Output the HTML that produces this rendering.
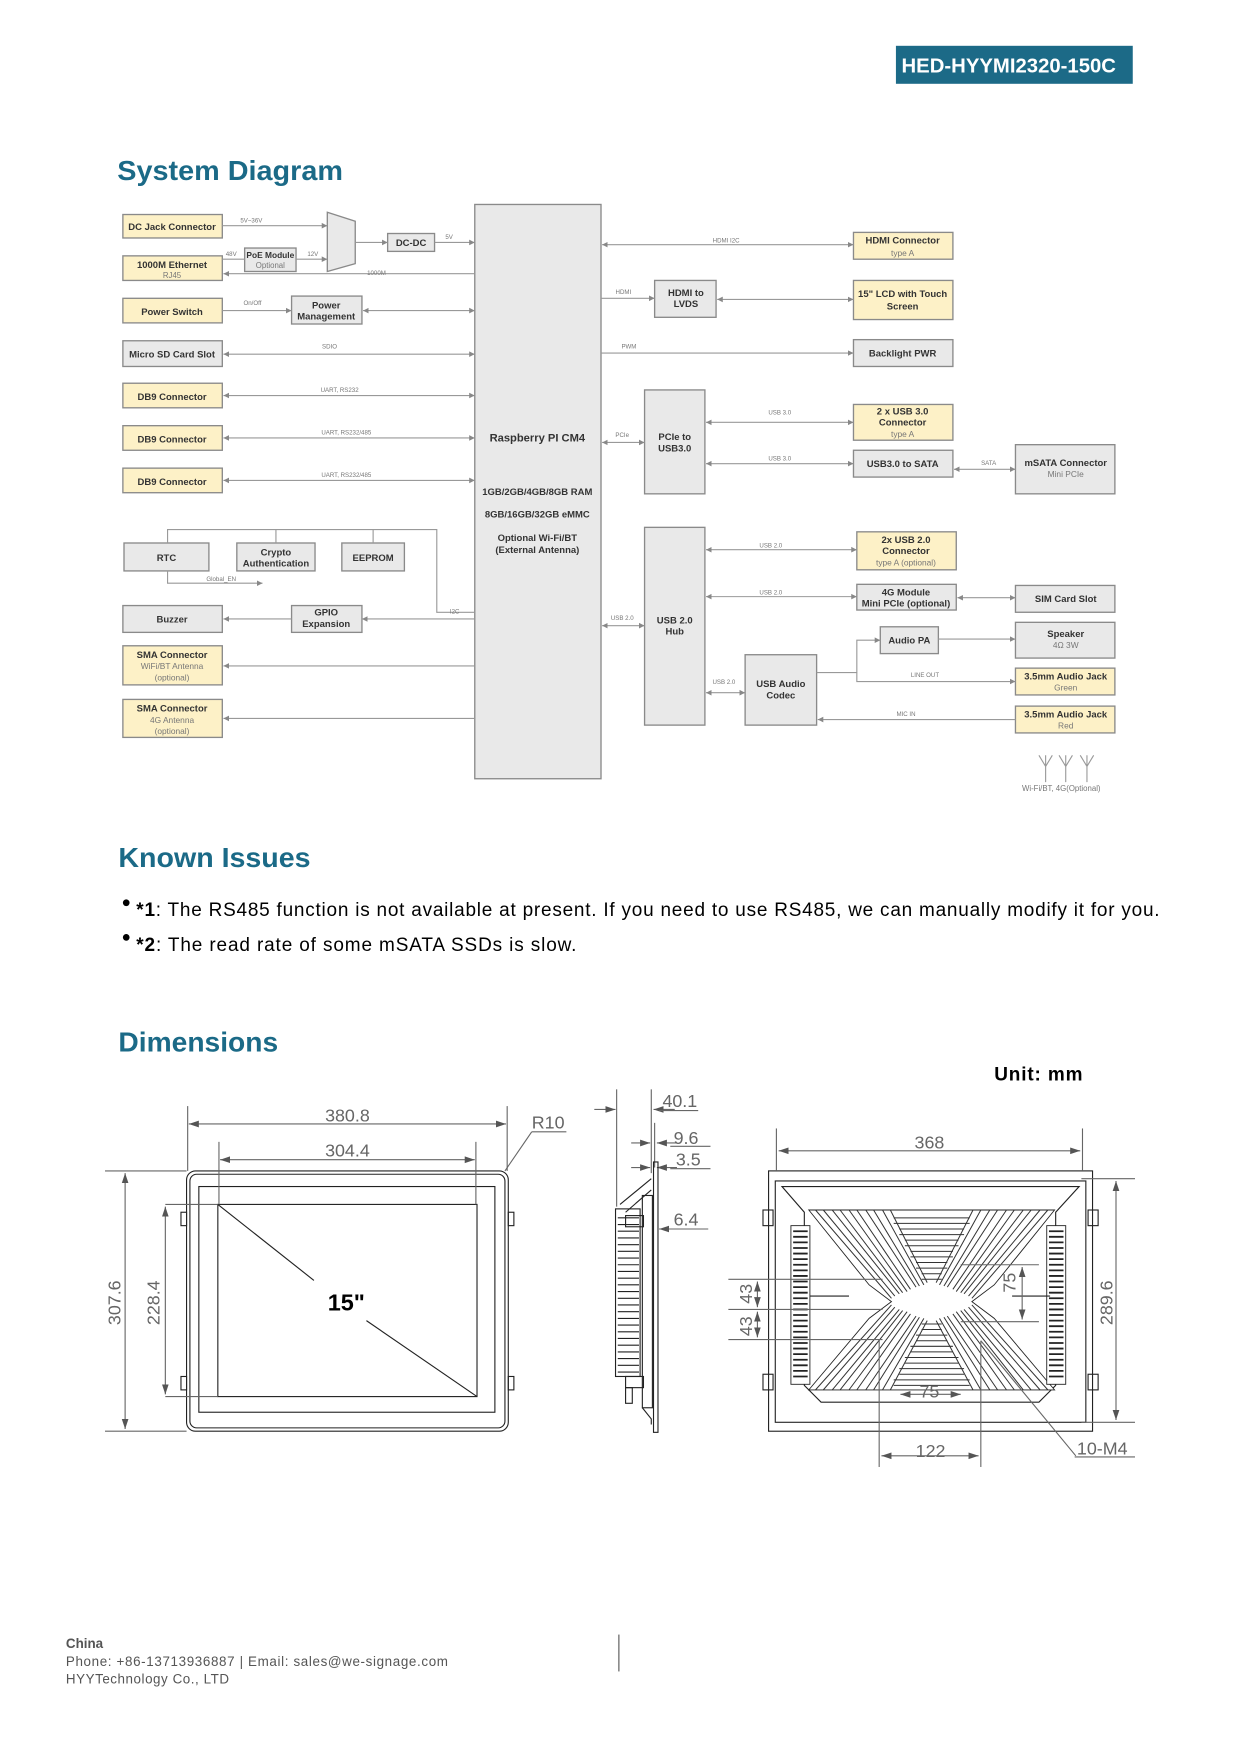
<!DOCTYPE html>
<html><head><meta charset="utf-8"><style>
html,body{margin:0;padding:0;background:#fff;}
svg{display:block;}
text{font-family:"Liberation Sans",Arial,sans-serif;}
.b{fill:#fdf1c7;stroke:#8a8a8a;stroke-width:1.2;}
.g{fill:#e9e9e9;stroke:#8a8a8a;stroke-width:1.2;}
.t{font-size:8.5px;font-weight:bold;fill:#333;text-anchor:middle;}
.s{font-size:5.5px;fill:#777;text-anchor:middle;}
.l{stroke:#999;stroke-width:1;fill:none;}
.d{stroke:#666;stroke-width:1;fill:none;}
.dt{font-size:16px;fill:#666;}
.k{stroke:#222;stroke-width:1;fill:none;}
</style></head><body>
<svg width="1240" height="1753" viewBox="0 0 1110 1569" preserveAspectRatio="none" xmlns="http://www.w3.org/2000/svg">
<defs>
<marker id="a" markerWidth="6" markerHeight="6" refX="5" refY="3" orient="auto"><path d="M0,0.5 L5,3 L0,5.5z" fill="#888"/></marker>
<marker id="as" markerWidth="6" markerHeight="6" refX="1" refY="3" orient="auto"><path d="M6,0.5 L1,3 L6,5.5z" fill="#888"/></marker>
<marker id="da" markerWidth="10" markerHeight="8" refX="9" refY="4" orient="auto"><path d="M0,1 L9,4 L0,7z" fill="#555"/></marker>
<marker id="ds" markerWidth="10" markerHeight="8" refX="1" refY="4" orient="auto"><path d="M10,1 L1,4 L10,7z" fill="#555"/></marker>
</defs>
<rect x="802" y="41" width="212" height="34" fill="#1c6a87"/>
<text x="807" y="65" font-size="18" font-weight="bold" fill="#fff" textLength="192" lengthAdjust="spacingAndGlyphs">HED-HYYMI2320-150C</text>
<text x="105" y="161" font-size="25" font-weight="bold" fill="#1b6a87" textLength="202" lengthAdjust="spacingAndGlyphs">System Diagram</text>

<!-- CM4 -->
<rect x="425" y="183" width="113" height="514" class="g"/>
<text x="481" y="395" class="t" style="font-size:10px">Raspberry PI CM4</text>
<text x="481" y="443" class="t">1GB/2GB/4GB/8GB RAM</text>
<text x="481" y="463" class="t">8GB/16GB/32GB eMMC</text>
<text x="481" y="484" class="t">Optional Wi-Fi/BT</text>
<text x="481" y="495" class="t">(External Antenna)</text>

<!-- left column -->
<rect x="110" y="192" width="89" height="21" class="b"/><text x="154" y="206" class="t">DC Jack Connector</text>
<rect x="110" y="229" width="89" height="22" class="b"/><text x="154" y="240" class="t">1000M Ethernet</text><text x="154" y="249" class="s" style="font-size:7px">RJ45</text>
<rect x="110" y="267" width="89" height="22" class="b"/><text x="154" y="282" class="t">Power Switch</text>
<rect x="110" y="305" width="89" height="23" class="g"/><text x="154" y="320" class="t">Micro SD Card Slot</text>
<rect x="110" y="343" width="89" height="22" class="b"/><text x="154" y="358" class="t">DB9 Connector</text>
<rect x="110" y="381" width="89" height="22" class="b"/><text x="154" y="396" class="t">DB9 Connector</text>
<rect x="110" y="419" width="89" height="22" class="b"/><text x="154" y="434" class="t">DB9 Connector</text>
<path d="M293,190 L318,198 L318,236 L293,243z" class="g"/>
<rect x="347" y="209" width="42" height="16" class="g"/><text x="368" y="220" class="t">DC-DC</text>
<rect x="219" y="222" width="46" height="21" class="g"/><text x="242" y="231" class="t" style="font-size:7.5px">PoE Module</text><text x="242" y="240" class="s" style="font-size:7px">Optional</text>
<rect x="261" y="265" width="63" height="25" class="g"/><text x="292" y="276" class="t">Power</text><text x="292" y="286" class="t">Management</text>
<line x1="199" y1="202" x2="293" y2="202" class="l" marker-end="url(#a)"/><text x="225" y="199" class="s">5V~36V</text>
<line x1="318" y1="217" x2="347" y2="217" class="l" marker-end="url(#a)"/>
<line x1="389" y1="217" x2="425" y2="217" class="l" marker-end="url(#a)"/><text x="402" y="214" class="s">5V</text>
<line x1="199" y1="232" x2="219" y2="232" class="l"/><text x="207" y="229" class="s">48V</text>
<line x1="265" y1="232" x2="293" y2="232" class="l" marker-end="url(#a)"/><text x="280" y="229" class="s">12V</text>
<line x1="425" y1="245" x2="200" y2="245" class="l" marker-end="url(#a)"/><text x="337" y="246" class="s">1000M</text>
<line x1="199" y1="278" x2="261" y2="278" class="l" marker-end="url(#a)"/><text x="226" y="273" class="s">On/Off</text>
<line x1="325" y1="278" x2="425" y2="278" class="l" marker-start="url(#as)" marker-end="url(#a)"/>
<line x1="200" y1="317" x2="425" y2="317" class="l" marker-start="url(#as)" marker-end="url(#a)"/><text x="295" y="312" class="s">SDIO</text>
<line x1="200" y1="354" x2="425" y2="354" class="l" marker-start="url(#as)" marker-end="url(#a)"/><text x="304" y="351" class="s">UART, RS232</text>
<line x1="200" y1="392" x2="425" y2="392" class="l" marker-start="url(#as)" marker-end="url(#a)"/><text x="310" y="389" class="s">UART, RS232/485</text>
<line x1="200" y1="430" x2="425" y2="430" class="l" marker-start="url(#as)" marker-end="url(#a)"/><text x="310" y="427" class="s">UART, RS232/485</text>

<rect x="111" y="486" width="76" height="25" class="g"/><text x="149" y="502" class="t">RTC</text>
<rect x="212" y="486" width="70" height="25" class="g"/><text x="247" y="497" class="t">Crypto</text><text x="247" y="507" class="t">Authentication</text>
<rect x="306" y="486" width="56" height="25" class="g"/><text x="334" y="502" class="t">EEPROM</text>
<path d="M150,486 V474 H391 V548 H425" class="l"/><line x1="247" y1="474" x2="247" y2="486" class="l"/><line x1="334" y1="474" x2="334" y2="486" class="l"/>
<path d="M150,511 V522 H235" class="l" marker-end="url(#a)"/><text x="198" y="520" class="s">Global_EN</text>
<text x="407" y="549" class="s">I2C</text>
<rect x="110" y="542" width="89" height="24" class="g"/><text x="154" y="557" class="t">Buzzer</text>
<rect x="261" y="542" width="63" height="24" class="g"/><text x="292" y="551" class="t">GPIO</text><text x="292" y="561" class="t">Expansion</text>
<line x1="261" y1="554" x2="200" y2="554" class="l" marker-end="url(#a)"/>
<line x1="324" y1="554" x2="425" y2="554" class="l" marker-start="url(#as)"/>
<rect x="110" y="578" width="89" height="35" class="b"/><text x="154" y="589" class="t">SMA Connector</text><text x="154" y="599" class="s" style="font-size:7.5px">WiFi/BT Antenna</text><text x="154" y="609" class="s" style="font-size:7.5px">(optional)</text>
<rect x="110" y="626" width="89" height="34" class="b"/><text x="154" y="637" class="t">SMA Connector</text><text x="154" y="647" class="s" style="font-size:7.5px">4G Antenna</text><text x="154" y="657" class="s" style="font-size:7.5px">(optional)</text>
<line x1="200" y1="596" x2="425" y2="596" class="l" marker-start="url(#as)"/>
<line x1="200" y1="643" x2="425" y2="643" class="l" marker-start="url(#as)"/>

<!-- right -->
<rect x="764" y="208" width="89" height="24" class="b"/><text x="808" y="218" class="t">HDMI Connector</text><text x="808" y="229" class="s" style="font-size:7.5px">type A</text>
<line x1="539" y1="219" x2="764" y2="219" class="l" marker-start="url(#as)" marker-end="url(#a)"/><text x="650" y="217" class="s">HDMI I2C</text>
<rect x="586" y="251" width="55" height="33" class="g"/><text x="614" y="265" class="t">HDMI to</text><text x="614" y="275" class="t">LVDS</text>
<line x1="538" y1="267" x2="586" y2="267" class="l" marker-end="url(#a)"/><text x="558" y="263" class="s">HDMI</text>
<rect x="764" y="251" width="89" height="35" class="b"/><text x="808" y="266" class="t">15" LCD with Touch</text><text x="808" y="277" class="t">Screen</text>
<line x1="642" y1="268" x2="764" y2="268" class="l" marker-start="url(#as)" marker-end="url(#a)"/>
<rect x="764" y="304" width="89" height="24" class="g"/><text x="808" y="319" class="t">Backlight PWR</text>
<line x1="538" y1="316" x2="764" y2="316" class="l" marker-end="url(#a)"/><text x="563" y="312" class="s">PWM</text>
<rect x="577" y="349" width="54" height="93" class="g"/><text x="604" y="394" class="t">PCIe to</text><text x="604" y="404" class="t">USB3.0</text>
<line x1="539" y1="396" x2="577" y2="396" class="l" marker-start="url(#as)" marker-end="url(#a)"/><text x="557" y="391" class="s">PCIe</text>
<rect x="764" y="362" width="89" height="32" class="b"/><text x="808" y="371" class="t">2 x USB 3.0</text><text x="808" y="381" class="t">Connector</text><text x="808" y="391" class="s" style="font-size:7.5px">type A</text>
<line x1="632" y1="378" x2="764" y2="378" class="l" marker-start="url(#as)" marker-end="url(#a)"/><text x="698" y="371" class="s">USB 3.0</text>
<rect x="764" y="403" width="89" height="24" class="g"/><text x="808" y="418" class="t">USB3.0 to SATA</text>
<line x1="632" y1="415" x2="764" y2="415" class="l" marker-start="url(#as)" marker-end="url(#a)"/><text x="698" y="412" class="s">USB 3.0</text>
<rect x="909" y="398" width="89" height="44" class="g"/><text x="954" y="417" class="t">mSATA Connector</text><text x="954" y="427" class="s" style="font-size:7.5px">Mini PCIe</text>
<line x1="854" y1="420" x2="909" y2="420" class="l" marker-start="url(#as)" marker-end="url(#a)"/><text x="885" y="416" class="s">SATA</text>
<rect x="577" y="472" width="54" height="177" class="g"/><text x="604" y="558" class="t">USB 2.0</text><text x="604" y="568" class="t">Hub</text>
<line x1="539" y1="560" x2="577" y2="560" class="l" marker-start="url(#as)" marker-end="url(#a)"/><text x="557" y="555" class="s">USB 2.0</text>
<rect x="767" y="476" width="89" height="34" class="b"/><text x="811" y="486" class="t">2x USB 2.0</text><text x="811" y="496" class="t">Connector</text><text x="811" y="506" class="s" style="font-size:7.5px">type A (optional)</text>
<line x1="632" y1="492" x2="767" y2="492" class="l" marker-start="url(#as)" marker-end="url(#a)"/><text x="690" y="490" class="s">USB 2.0</text>
<rect x="767" y="523" width="89" height="23" class="g"/><text x="811" y="533" class="t">4G Module</text><text x="811" y="543" class="t">Mini PCIe (optional)</text>
<line x1="632" y1="534" x2="767" y2="534" class="l" marker-start="url(#as)" marker-end="url(#a)"/><text x="690" y="532" class="s">USB 2.0</text>
<rect x="909" y="524" width="89" height="24" class="g"/><text x="954" y="539" class="t">SIM Card Slot</text>
<line x1="857" y1="535" x2="909" y2="535" class="l" marker-start="url(#as)" marker-end="url(#a)"/>
<rect x="788" y="561" width="52" height="24" class="g"/><text x="814" y="576" class="t">Audio PA</text>
<rect x="909" y="557" width="89" height="32" class="g"/><text x="954" y="570" class="t">Speaker</text><text x="954" y="580" class="s" style="font-size:7.5px">4Ω 3W</text>
<line x1="840" y1="572" x2="909" y2="572" class="l" marker-end="url(#a)"/>
<rect x="909" y="598" width="89" height="24" class="b"/><text x="954" y="608" class="t">3.5mm Audio Jack</text><text x="954" y="618" class="s" style="font-size:7.5px">Green</text>
<rect x="909" y="632" width="89" height="24" class="b"/><text x="954" y="642" class="t">3.5mm Audio Jack</text><text x="954" y="652" class="s" style="font-size:7.5px">Red</text>
<rect x="667" y="586" width="64" height="63" class="g"/><text x="699" y="615" class="t">USB Audio</text><text x="699" y="625" class="t">Codec</text>
<line x1="632" y1="620" x2="667" y2="620" class="l" marker-start="url(#as)" marker-end="url(#a)"/><text x="648" y="612" class="s">USB 2.0</text>
<path d="M731,602 H767 V573 H788" class="l" marker-end="url(#a)"/>
<path d="M767,602 V610 H909" class="l" marker-end="url(#a)"/><text x="828" y="606" class="s">LINE OUT</text>
<line x1="909" y1="644" x2="732" y2="644" class="l" marker-end="url(#a)"/><text x="811" y="641" class="s">MIC IN</text>
<g class="l" stroke="#aaa"><path d="M930,676 L936,686 L942,676 M936,676 V700 M948,676 L954,686 L960,676 M954,676 V700 M967,676 L973,686 L979,676 M973,676 V700"/></g>
<text x="950" y="708" class="s" style="font-size:7px">Wi-Fi/BT, 4G(Optional)</text>

<!-- Known issues -->
<text x="106" y="776" font-size="25" font-weight="bold" fill="#1b6a87" textLength="172" lengthAdjust="spacingAndGlyphs">Known Issues</text>
<circle cx="113" cy="808" r="3" fill="#000"/>
<text x="122" y="820" font-size="17" fill="#000" textLength="916" lengthAdjust="spacing"><tspan font-weight="bold">*1</tspan>: The RS485 function is not available at present. If you need to use RS485, we can manually modify it for you.</text>
<circle cx="113" cy="839" r="3" fill="#000"/>
<text x="122" y="851" font-size="17" fill="#000" textLength="394" lengthAdjust="spacing"><tspan font-weight="bold">*2</tspan>: The read rate of some mSATA SSDs is slow.</text>

<text x="106" y="941" font-size="25" font-weight="bold" fill="#1b6a87" textLength="143" lengthAdjust="spacingAndGlyphs">Dimensions</text>
<text x="890" y="967" font-size="17" font-weight="bold" fill="#000" textLength="79" lengthAdjust="spacing">Unit: mm</text>

<!-- front view -->
<rect x="167" y="1048" width="288" height="233" rx="8" class="k" stroke-width="1.5"/>
<rect x="170" y="1051" width="282" height="227" rx="6" class="k" stroke-width="0.6"/>
<rect x="178" y="1062" width="265" height="202" class="k"/>
<rect x="195" y="1078" width="232" height="172" class="k"/>
<line x1="148" y1="1078" x2="195" y2="1078" class="d"/><line x1="148" y1="1250" x2="195" y2="1250" class="d"/>
<line x1="94" y1="1048" x2="167" y2="1048" class="d"/><line x1="94" y1="1281" x2="167" y2="1281" class="d"/>
<line x1="168" y1="990" x2="168" y2="1048" class="d"/><line x1="454" y1="990" x2="454" y2="1048" class="d"/>
<line x1="196" y1="1022" x2="196" y2="1078" class="d"/><line x1="426" y1="1022" x2="426" y2="1078" class="d"/>
<line x1="169" y1="1006" x2="453" y2="1006" class="d" marker-start="url(#ds)" marker-end="url(#da)"/>
<text x="311" y="1004" class="dt" text-anchor="middle">380.8</text>
<line x1="197" y1="1038" x2="425" y2="1038" class="d" marker-start="url(#ds)" marker-end="url(#da)"/>
<text x="311" y="1035" class="dt" text-anchor="middle">304.4</text>
<line x1="112" y1="1050" x2="112" y2="1279" class="d" marker-start="url(#ds)" marker-end="url(#da)"/>
<text transform="translate(108,1166) rotate(-90)" class="dt" text-anchor="middle">307.6</text>
<line x1="148" y1="1080" x2="148" y2="1248" class="d" marker-start="url(#ds)" marker-end="url(#da)"/>
<text transform="translate(143,1166) rotate(-90)" class="dt" text-anchor="middle">228.4</text>
<text x="476" y="1010" class="dt">R10</text><line x1="476" y1="1013" x2="507" y2="1013" class="d"/>
<line x1="476" y1="1013" x2="452" y2="1048" class="d"/>
<line x1="195" y1="1078" x2="281" y2="1146" class="k" stroke-width="0.8"/>
<line x1="328" y1="1182" x2="427" y2="1250" class="k" stroke-width="0.8"/>
<text x="310" y="1173" font-size="21" font-weight="bold" text-anchor="middle" fill="#000">15"</text>
<g class="k"><rect x="162" y="1085" width="5" height="12"/><rect x="455" y="1085" width="5" height="12"/><rect x="162" y="1232" width="5" height="12"/><rect x="455" y="1232" width="5" height="12"/></g>

<!-- side view -->
<line x1="552" y1="975" x2="552" y2="1080" class="d"/>
<line x1="583" y1="975" x2="583" y2="1050" class="d"/>
<line x1="586" y1="1005" x2="586" y2="1045" class="d"/>
<line x1="532" y1="993" x2="551" y2="993" class="d" marker-end="url(#da)"/>
<line x1="604" y1="993" x2="585" y2="993" class="d" marker-end="url(#da)"/>
<text x="593" y="991" class="dt">40.1</text><line x1="590" y1="994" x2="625" y2="994" class="d"/>
<line x1="565" y1="1023" x2="582" y2="1023" class="d" marker-end="url(#da)"/>
<line x1="606" y1="1023" x2="588" y2="1023" class="d" marker-end="url(#da)"/>
<text x="603" y="1024" class="dt">9.6</text><line x1="600" y1="1026" x2="636" y2="1026" class="d"/>
<line x1="565" y1="1045" x2="582" y2="1045" class="d" marker-end="url(#da)"/>
<line x1="606" y1="1045" x2="588" y2="1045" class="d" marker-end="url(#da)"/>
<text x="605" y="1043" class="dt">3.5</text><line x1="600" y1="1046" x2="636" y2="1046" class="d"/>
<line x1="606" y1="1100" x2="590" y2="1100" class="d" marker-end="url(#da)"/>
<text x="603" y="1097" class="dt">6.4</text><line x1="600" y1="1100" x2="634" y2="1100" class="d"/>
<rect x="585" y="1040" width="4" height="242" class="k"/>
<rect x="575" y="1070" width="9" height="190" class="k"/>
<path d="M555,1078 L583,1055 M560,1085 L583,1065 M575,1260 L583,1270 V1275" class="k"/>
<rect x="551" y="1082" width="22" height="150" class="k"/>
<g stroke="#222" stroke-width="1">
<path d="M553,1090H572M553,1096H572M553,1102H572M553,1108H572M553,1114H572M553,1120H572M553,1126H572M553,1132H572M553,1138H572M553,1144H572M553,1150H572M553,1156H572M553,1162H572M553,1168H572M553,1174H572M553,1180H572M553,1186H572M553,1192H572M553,1198H572M553,1204H572M553,1210H572M553,1216H572M553,1222H572M553,1228H572"/>
</g>
<rect x="560" y="1088" width="16" height="10" class="k"/><rect x="560" y="1232" width="16" height="10" class="k"/>
<rect x="560" y="1242" width="6" height="14" class="k"/>

<!-- back view -->
<rect x="688" y="1048" width="290" height="233" class="k"/>
<rect x="694" y="1057" width="278" height="216" class="k" stroke-width="0.7"/>
<path d="M700,1062 H966 L945,1085 V1240 L930,1255 H735 L720,1240 V1085z" class="k" stroke-width="0.8"/>
<path d="M724,1083 H944 L890,1150 L870,1165 L890,1180 L944,1244 H724 L778,1180 L798,1165 L778,1150z" fill="#fff" stroke="#222" stroke-width="0.8"/>
<g stroke="#333" stroke-width="0.9" fill="none">
<path d="M730,1083 L798,1162 M737,1083 L801,1160 M745,1083 L805,1158 M752,1083 L808,1157 M760,1083 L812,1156 M767,1083 L815,1154 M775,1083 L820,1152 M782,1083 L823,1151 M790,1083 L827,1150 M797,1083 L830,1148 M938,1083 L870,1162 M931,1083 L867,1160 M923,1083 L863,1158 M916,1083 L860,1157 M908,1083 L856,1156 M901,1083 L853,1154 M893,1083 L848,1152 M886,1083 L845,1151 M878,1083 L841,1150 M871,1083 L838,1148"/>
<path d="M730,1244 L798,1168 M737,1244 L801,1170 M745,1244 L805,1172 M752,1244 L808,1173 M760,1244 L812,1174 M767,1244 L815,1176 M775,1244 L820,1178 M782,1244 L823,1179 M790,1244 L827,1180 M797,1244 L830,1182 M938,1244 L870,1168 M931,1244 L867,1170 M923,1244 L863,1172 M916,1244 L860,1173 M908,1244 L856,1174 M901,1244 L853,1176 M893,1244 L848,1178 M886,1244 L845,1179 M878,1244 L841,1180 M871,1244 L838,1182"/>
<path d="M800,1090H868M800,1095H868M805,1100H863M805,1105H863M810,1110H858M810,1115H858M815,1120H853M815,1125H853M820,1130H848M820,1135H848M825,1140H843M825,1145H843M800,1240H868M800,1235H868M805,1230H863M805,1225H863M810,1220H858M810,1215H858M815,1210H853M815,1205H853M820,1200H848M820,1195H848M825,1190H843M825,1185H843"/>
</g>
<g fill="#fff" stroke="#222" stroke-width="0.8">
<rect x="708" y="1097" width="17" height="142"/><rect x="937" y="1097" width="17" height="142"/>
</g>
<g stroke="#222" stroke-width="1.6">
<path d="M710,1102H723M710,1107H723M710,1112H723M710,1117H723M710,1122H723M710,1127H723M710,1132H723M710,1137H723M710,1142H723M710,1147H723M710,1152H723M710,1157H723M710,1162H723M710,1167H723M710,1172H723M710,1177H723M710,1182H723M710,1187H723M710,1192H723M710,1197H723M710,1202H723M710,1207H723M710,1212H723M710,1217H723M710,1222H723M710,1227H723M710,1232H723"/>
<path d="M939,1102H952M939,1107H952M939,1112H952M939,1117H952M939,1122H952M939,1127H952M939,1132H952M939,1137H952M939,1142H952M939,1147H952M939,1152H952M939,1157H952M939,1162H952M939,1167H952M939,1172H952M939,1177H952M939,1182H952M939,1187H952M939,1192H952M939,1197H952M939,1202H952M939,1207H952M939,1212H952M939,1217H952M939,1222H952M939,1227H952M939,1232H952"/>
</g>
<g class="k"><rect x="683" y="1083" width="9" height="14"/><rect x="974" y="1083" width="9" height="14"/><rect x="683" y="1230" width="9" height="14"/><rect x="974" y="1230" width="9" height="14"/>
<line x1="725" y1="1160" x2="760" y2="1160"/><line x1="906" y1="1160" x2="940" y2="1160"/></g>
<line x1="695" y1="1010" x2="695" y2="1048" class="d"/><line x1="969" y1="1010" x2="969" y2="1048" class="d"/>
<line x1="697" y1="1030" x2="967" y2="1030" class="d" marker-start="url(#ds)" marker-end="url(#da)"/>
<text x="832" y="1028" class="dt" text-anchor="middle">368</text>
<line x1="968" y1="1055" x2="1016" y2="1055" class="d"/><line x1="968" y1="1273" x2="1016" y2="1273" class="d"/>
<line x1="999" y1="1057" x2="999" y2="1271" class="d" marker-start="url(#ds)" marker-end="url(#da)"/>
<text transform="translate(996,1166) rotate(-90)" class="dt" text-anchor="middle">289.6</text>
<line x1="652" y1="1145" x2="790" y2="1145" class="d"/><line x1="652" y1="1172" x2="790" y2="1172" class="d"/><line x1="652" y1="1199" x2="790" y2="1199" class="d"/>
<line x1="678" y1="1147" x2="678" y2="1170" class="d" marker-start="url(#ds)" marker-end="url(#da)"/>
<line x1="678" y1="1174" x2="678" y2="1197" class="d" marker-start="url(#ds)" marker-end="url(#da)"/>
<text transform="translate(673,1158) rotate(-90)" class="dt" text-anchor="middle">43</text>
<text transform="translate(673,1187) rotate(-90)" class="dt" text-anchor="middle">43</text>
<line x1="860" y1="1132" x2="930" y2="1132" class="d"/><line x1="860" y1="1183" x2="930" y2="1183" class="d"/>
<line x1="915" y1="1134" x2="915" y2="1181" class="d" marker-start="url(#ds)" marker-end="url(#da)"/>
<text transform="translate(909,1148) rotate(-90)" class="dt" text-anchor="middle">75</text>
<line x1="806" y1="1248" x2="860" y2="1248" class="d" marker-start="url(#ds)" marker-end="url(#da)"/>
<text x="832" y="1251" class="dt" text-anchor="middle">75</text>
<line x1="787" y1="1200" x2="787" y2="1313" class="d"/><line x1="878" y1="1200" x2="878" y2="1313" class="d"/>
<line x1="789" y1="1303" x2="876" y2="1303" class="d" marker-start="url(#ds)" marker-end="url(#da)"/>
<text x="833" y="1304" class="dt" text-anchor="middle">122</text>
<line x1="878" y1="1200" x2="963" y2="1303" class="d"/>
<text x="964" y="1302" class="dt">10-M4</text><line x1="962" y1="1304" x2="1016" y2="1304" class="d"/>

<!-- footer -->
<text x="59" y="1475" font-size="12" font-weight="bold" fill="#555">China</text>
<text x="59" y="1491" font-size="12" fill="#555" textLength="342" lengthAdjust="spacing">Phone: +86-13713936887 | Email: sales@we-signage.com</text>
<text x="59" y="1507" font-size="12" fill="#555" textLength="146" lengthAdjust="spacing">HYYTechnology Co., LTD</text>
<line x1="554" y1="1463" x2="554" y2="1496" stroke="#555" stroke-width="1"/>
</svg>
</body></html>
